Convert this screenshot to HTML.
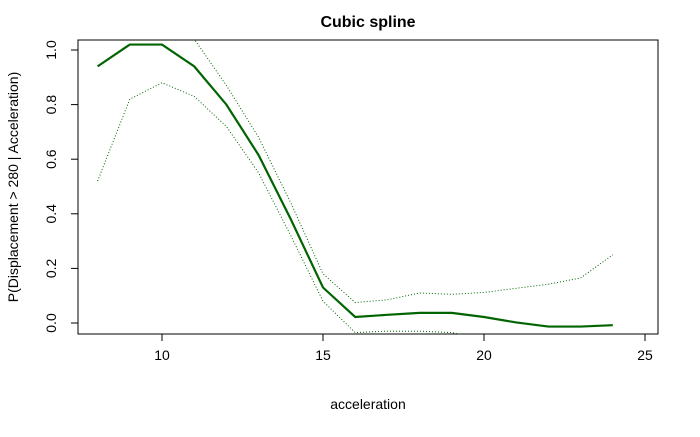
<!DOCTYPE html>
<html><head><meta charset="utf-8"><style>
body{margin:0;background:#fff;}
svg text{font-family:"Liberation Sans",Arial,sans-serif;}
</style></head><body>
<svg width="700" height="432" viewBox="0 0 700 432">
<defs><clipPath id="pc"><rect x="78" y="40" width="580" height="294"/></clipPath></defs>
<rect width="700" height="432" fill="#fff"/>
<text x="368" y="27" font-size="16" font-weight="bold" text-anchor="middle">Cubic spline</text>
<rect x="78" y="40" width="580" height="294" fill="none" stroke="#000"/>
<g id="axes"></g>
<g id="series" clip-path="url(#pc)"></g>
<text x="368" y="409" font-size="14" text-anchor="middle">acceleration</text>
<text transform="translate(18,187) rotate(-90)" font-size="14" text-anchor="middle">P(Displacement &gt; 280 | Acceleration)</text>
</svg>
<script>
const xs=[8,9,10,11,12,13,14,15,16,17,18,19,20,21,22,23,24];
const fit=[0.94,1.02,1.02,0.94,0.80,0.615,0.38,0.13,0.022,0.03,0.037,0.037,0.022,0.002,-0.013,-0.013,-0.008];
const upper=[1.4,1.25,1.17,1.04,0.87,0.68,0.44,0.18,0.075,0.085,0.11,0.105,0.112,0.127,0.142,0.165,0.25];
const lower=[0.52,0.82,0.88,0.83,0.72,0.55,0.32,0.08,-0.035,-0.03,-0.03,-0.035,-0.06,-0.1,-0.14,-0.18,-0.22];
const xTicks=[10,15,20,25];
const yTicks=["0.0","0.2","0.4","0.6","0.8","1.0"];
const sx=v=>162+(v-10)*32.2;
const sy=v=>323-v*273;
const NS="http://www.w3.org/2000/svg";
const ax=document.getElementById('axes');
function mk(t,a,p){const e=document.createElementNS(NS,t);for(const k in a)e.setAttribute(k,a[k]);p.appendChild(e);return e;}
mk('line',{x1:sx(10),x2:sx(25),y1:334,y2:334,stroke:'#000'},ax);
mk('line',{x1:78,x2:78,y1:sy(0),y2:sy(1),stroke:'#000'},ax);
xTicks.forEach(t=>{
 const l=mk('line',{x1:sx(t),x2:sx(t),y1:334,y2:341,stroke:'#000'},ax);
 
 
 const tx=mk('text',{x:sx(t),y:360,'font-size':14,'text-anchor':'middle'},ax);tx.textContent=t;
 
 
});
yTicks.forEach(t=>{
 const v=parseFloat(t);
 mk('line',{x1:71,x2:78,y1:sy(v),y2:sy(v),stroke:'#000'},ax);
 const tx=mk('text',{transform:`translate(56,${sy(v)}) rotate(-90)`,'font-size':14,'text-anchor':'middle'},ax);tx.textContent=t;
 
 
});
const sg=document.getElementById('series');
function line(vals,w,dash,name){
 const d=vals.map((v,i)=>(i?'L':'M')+sx(xs[i])+','+sy(v)).join('');
 const p=mk('path',{d:d,fill:'none',stroke:'#006400','stroke-width':w},sg);
 if(dash)p.setAttribute('stroke-dasharray',dash);
 
 
}
line(upper,1,'1,2','upper-band-line');
line(lower,1,'1,2','lower-band-line');
line(fit,2.2,null,'fit-line');
</script>
</body></html>
